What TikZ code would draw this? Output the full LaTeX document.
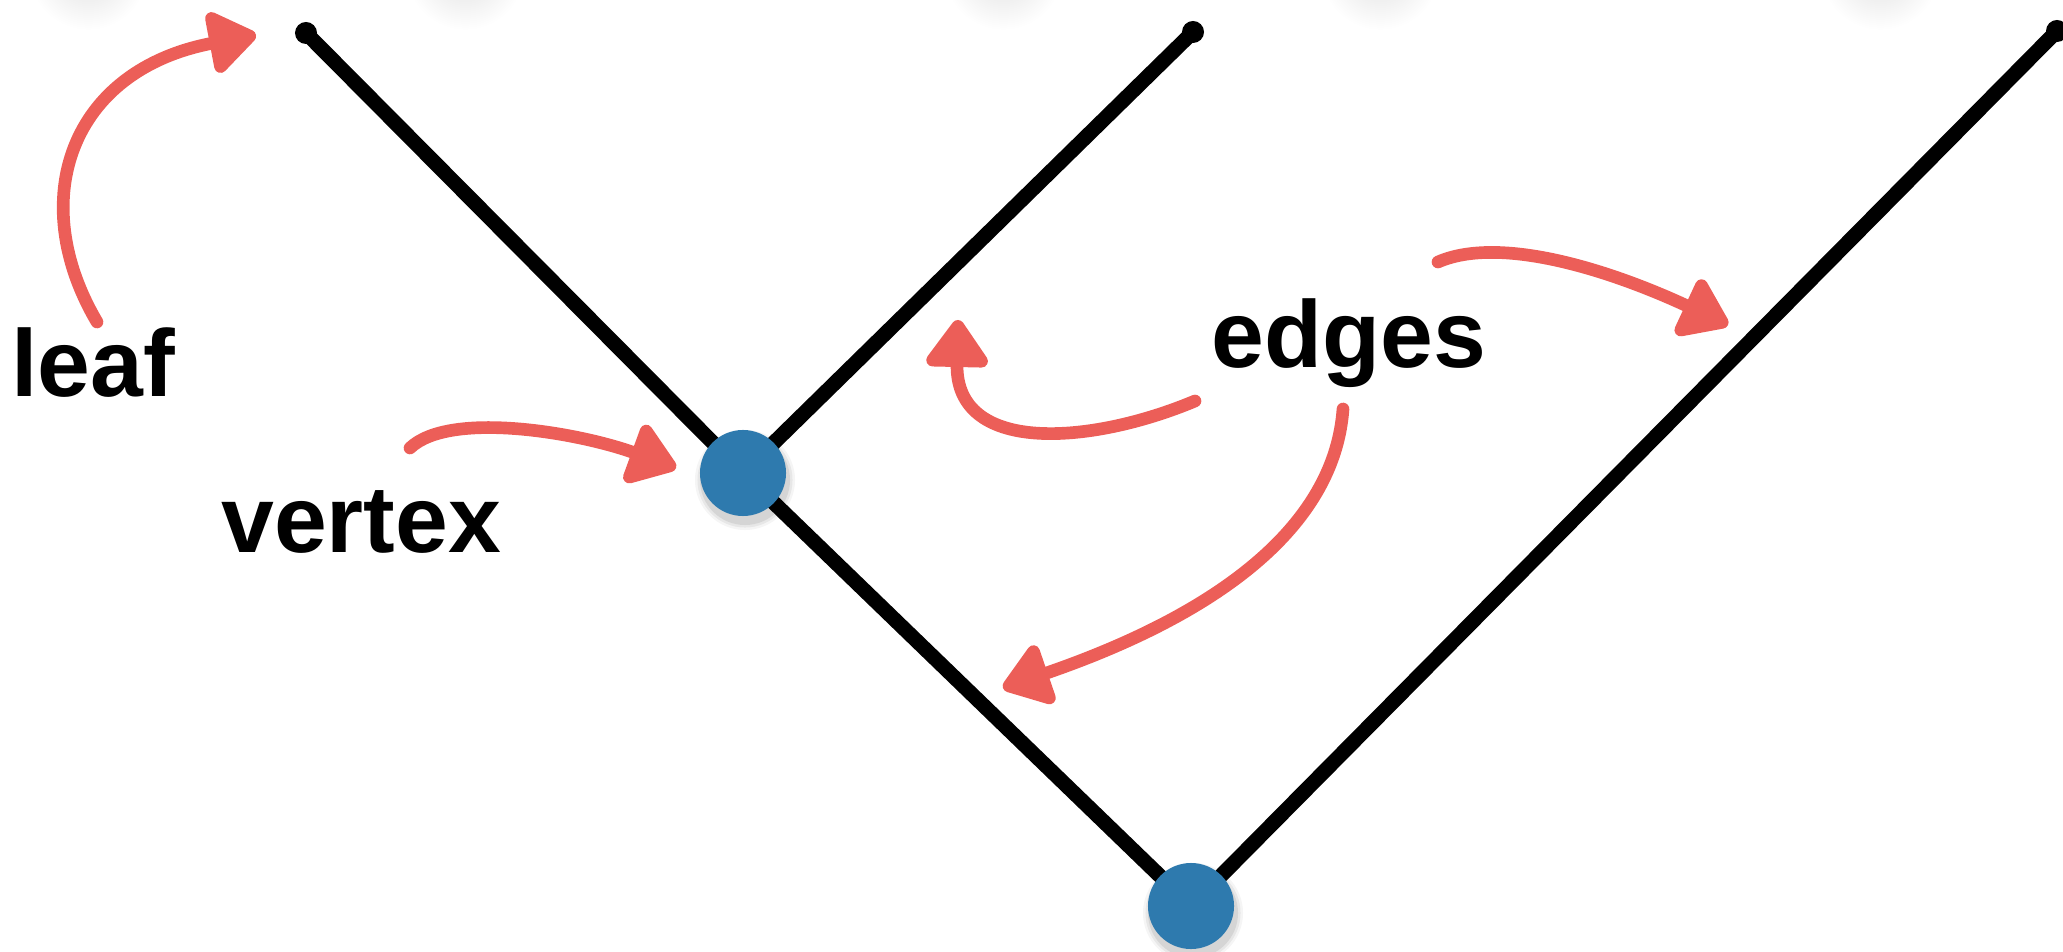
\documentclass[tikz,border=0pt]{standalone}
\usepackage{fontspec}
\setmainfont{Liberation Sans}
\usetikzlibrary{arrows.meta}
\definecolor{vblue}{RGB}{46,122,174}
\definecolor{pen}{RGB}{236,94,88}
\pgfdeclarelayer{back}
\pgfsetlayers{back,main}
\begin{document}
\begin{tikzpicture}[x=0.01cm,y=-0.01cm,
  branch/.style={line width=4.2pt, line cap=round, line join=round, black},
  vert/.style={circle, fill=vblue, inner sep=0pt, minimum size=0.86cm},
  note/.style={pen, line width=3.6pt, line cap=round,
    -{Triangle[length=5.2mm,width=7mm,round]}},
  lbl/.style={anchor=base west, inner sep=0pt, scale=2, transform shape,
    font=\fontsize{13.5}{16}\selectfont\bfseries},
  haze/.style={shade, inner color=black!12, outer color=white}
]
\useasboundingbox (0,0) rectangle (2063,952);

% faint shadows of discs sitting just above the frame
\begin{scope}
  \clip (0,0) rectangle (2063,952);
  \foreach \x in {88,465,1003,1380,1880}
    \shade[haze] (\x,-30) circle[radius=0.6cm];
\end{scope}

% tree: leaves and inner vertices
\coordinate (l1) at (306,33);
\coordinate (l2) at (1193,32);
\coordinate (l3) at (2057,31);
\coordinate (c1) at (743,473);
\coordinate (c0) at (1191,906);

% soft drop shadows under the vertices
\foreach \r/\o in {0.50/0.04,0.475/0.06,0.45/0.08}{
  \fill[black, opacity=\o] ([shift={(2,7)}]c1) circle[radius=\r cm];
  \fill[black, opacity=\o] ([shift={(2,7)}]c0) circle[radius=\r cm];
}
\node[vert] (v1) at (c1) {};
\node[vert] (v0) at (c0) {};

\begin{pgfonlayer}{back}
  \draw[branch] (l1) -- (v1.center) -- (v0.center) -- (l3);
  \draw[branch] (l2) -- (v1.center);
  \foreach \p in {l1,l2,l3} \fill (\p) circle[radius=0.11cm];
\end{pgfonlayer}

% labels
\node[lbl] (leaf) at (10,397) {leaf};
\node[lbl] (vertex) at (220,553) {vertex};
\node[lbl] (edges) at (1210,368) {edges};

% pointers
\coordinate (a1s) at (97,322);   \coordinate (a1e) at (256,35);
\coordinate (a2s) at (410,448);  \coordinate (a2e) at (676,468);
\coordinate (a3s) at (1195,401); \coordinate (a3e) at (958,320);
\coordinate (a4s) at (1343,409); \coordinate (a4e) at (1003,688);
\coordinate (a5s) at (1438,262); \coordinate (a5e) at (1728,325);

\draw[note] (a1s) .. controls (25,200) and (70,70) .. (a1e);
\draw[note] (a2s) .. controls (450,410) and (580,433) .. (a2e);
\draw[note] (a3s) .. controls (1090,445) and (955,455) .. (a3e);
\draw[note] (a4s) .. controls (1335,520) and (1230,610) .. (a4e);
\draw[note] (a5s) .. controls (1500,235) and (1610,270) .. (a5e);
\end{tikzpicture}
\end{document}
